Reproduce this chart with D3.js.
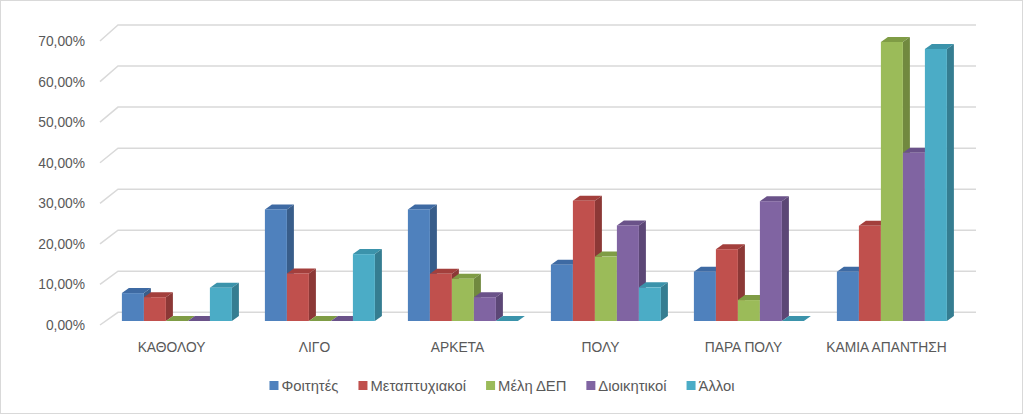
<!DOCTYPE html>
<html>
<head>
<meta charset="utf-8">
<script src="https://cdn.jsdelivr.net/npm/d3@7/dist/d3.min.js"></script>
<style>
  body { margin: 0; background: #fff; }
  text { font-family: "Liberation Sans", "DejaVu Sans", sans-serif; fill: #595959; }
</style>
</head>
<body>
<div class="chart"></div>
<script>
// categories and series
const categories = ["ΚΑΘΟΛΟΥ", "ΛΙΓΟ", "ΑΡΚΕΤΑ", "ΠΟΛΥ", "ΠΑΡΑ ΠΟΛΥ", "ΚΑΜΙΑ ΑΠΑΝΤΗΣΗ"];
const seriesNames = ["Φοιτητές", "Μεταπτυχιακοί", "Μέλη ΔΕΠ", "Διοικητικοί", "Άλλοι"];
const foititesValues      = [0.068, 0.272, 0.272, 0.137, 0.120, 0.120];
const metaptyxiakoiValues = [0.058, 0.116, 0.115, 0.293, 0.175, 0.232];
const melhDepValues       = [0.000, 0.000, 0.103, 0.157, 0.051, 0.680];
const dioikhtikoiValues   = [0.000, 0.000, 0.058, 0.233, 0.292, 0.410];
const alloiValues         = [0.081, 0.163, 0.000, 0.082, 0.000, 0.663];
const yTicks = [0, 0.1, 0.2, 0.3, 0.4, 0.5, 0.6, 0.7];

const allValues = [foititesValues, metaptyxiakoiValues, melhDepValues, dioikhtikoiValues, alloiValues];
const front = ["#4f81bd", "#c0504d", "#9bbb59", "#8064a2", "#4bacc6"];
const side  = ["#385d8a", "#8c3836", "#71893f", "#5c4776", "#357d91"];
const top_  = ["#3e6aa3", "#a33f3c", "#7f9c45", "#6a5289", "#3b93ab"];

const W = 1023, H = 414;
let svg = d3.select(".chart").append("svg")
    .attr("width", W).attr("height", H);

svg.append("rect")
    .attr("x", 0.5).attr("y", 0.5)
    .attr("width", W - 1).attr("height", H - 1)
    .attr("fill", "#fff").attr("stroke", "#d9d9d9");

// 3d geometry: wall depth offset and bar depth offset
const wallDx = 18, wallDy = -13;
const barDx = 7, barDy = -5;
const plotLeft = 100, plotRight = 958;

let yFront = d3.scaleLinear().domain([0, 0.7]).range([325, 41]);
let yBack  = d3.scaleLinear().domain([0, 0.7]).range([312.3, 25]);
let yBar   = d3.scaleLinear().domain([0, 0.7]).range([321, 33.8]);

let x = d3.scaleBand().domain(categories)
    .range([plotLeft + 5.4, plotRight + 5.4]).padding(0);
let xSub = d3.scaleBand().domain(seriesNames)
    .range([0, x.bandwidth()]).paddingInner(0).paddingOuter(0.75);

// gridlines: side wall diagonal + back wall line
let grid = svg.append("g");
grid.selectAll("path.g")
    .data(yTicks)
    .enter()
    .append("path")
    .attr("fill", "none")
    .attr("stroke", "#d9d9d9")
    .attr("stroke-width", 1.5)
    .attr("d", d => "M" + plotLeft + "," + yFront(d) +
        "L" + (plotLeft + wallDx) + "," + yBack(d) +
        "L" + (plotRight + wallDx) + "," + yBack(d));

// y labels
svg.selectAll("text.ylab")
    .data(yTicks)
    .enter()
    .append("text")
    .attr("class", "ylab")
    .attr("x", 85)
    .attr("y", d => yFront(d) + 5)
    .attr("text-anchor", "end")
    .attr("font-size", 13.8)
    .text(d => d3.format(".2f")(d * 100).replace(".", ",") + "%");

// bars, drawn left to right so the next front face covers the previous side
let bars = [];
categories.forEach((c, ci) => {
    seriesNames.forEach((s, si) => {
        bars.push({ c: c, s: s, si: si, v: allValues[si][ci] });
    });
});

let g = svg.selectAll("g.bar")
    .data(bars)
    .enter()
    .append("g")
    .attr("class", "bar");

g.each(function (d) {
    let x0 = x(d.c) + xSub(d.s), w = xSub.bandwidth();
    let y0 = yBar(0), y1 = yBar(d.v);
    let sel = d3.select(this);
    // top
    sel.append("path")
        .attr("fill", top_[d.si])
        .attr("d", "M" + x0 + "," + y1 + "L" + (x0 + barDx) + "," + (y1 + barDy) +
            "L" + (x0 + w + barDx) + "," + (y1 + barDy) + "L" + (x0 + w) + "," + y1 + "Z");
    // side
    sel.append("path")
        .attr("fill", side[d.si])
        .attr("d", "M" + (x0 + w) + "," + y1 + "L" + (x0 + w + barDx) + "," + (y1 + barDy) +
            "L" + (x0 + w + barDx) + "," + (y0 + barDy) + "L" + (x0 + w) + "," + y0 + "Z");
    // front
    sel.append("rect")
        .attr("fill", front[d.si])
        .attr("x", x0).attr("y", y1)
        .attr("width", w).attr("height", y0 - y1);
});

// category labels
svg.selectAll("text.xlab")
    .data(categories)
    .enter()
    .append("text")
    .attr("class", "xlab")
    .attr("x", d => x(d) - 5.4 + x.bandwidth() / 2)
    .attr("y", 352)
    .attr("text-anchor", "middle")
    .attr("font-size", 13.8)
    .text(d => d);

// legend
let legend = svg.append("g");
let items = legend.selectAll("g")
    .data(seriesNames)
    .enter()
    .append("g");
items.append("rect")
    .attr("width", 9).attr("height", 9)
    .attr("y", 381)
    .attr("fill", (d, i) => front[i]);
items.append("text")
    .attr("x", 12).attr("y", 390.5)
    .attr("font-size", 14.8)
    .text(d => d);
let cx = 0;
items.each(function () {
    let tw = d3.select(this).select("text").node().getComputedTextLength();
    d3.select(this).attr("data-x", cx);
    cx += 12 + tw + 20;
});
let total = cx - 20;
let startX = 502 - total / 2;
items.attr("transform", function () {
    return "translate(" + (startX + (+d3.select(this).attr("data-x"))) + ",0)";
});
</script>
</body>
</html>
